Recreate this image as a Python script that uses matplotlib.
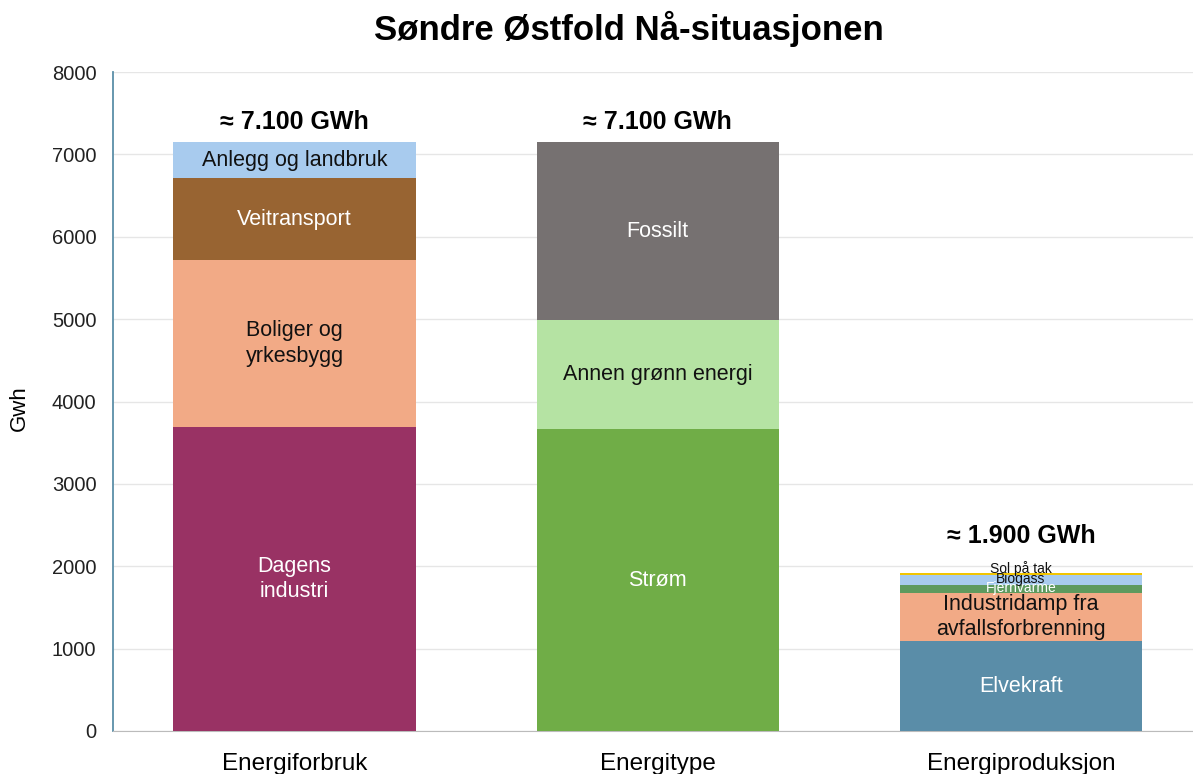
import matplotlib.pyplot as plt
import numpy as np

plt.rcParams['font.family'] = ['Liberation Sans', 'DejaVu Sans']

categories = ["Energiforbruk", "Energitype", "Energiproduksjon"]
totals = ["≈ 7.100 GWh", "≈ 7.100 GWh", "≈ 1.900 GWh"]

# segments per category (bottom to top)
seg_forbruk_labels = ["Dagens\nindustri", "Boliger og\nyrkesbygg", "Veitransport", "Anlegg og landbruk"]
seg_forbruk_values = [3690, 2026, 995, 437]
seg_type_labels = ["Strøm", "Annen grønn energi", "Fossilt"]
seg_type_values = [3665, 1323, 2160]
seg_prod_labels = ["Elvekraft", "Industridamp fra\navfallsforbrenning", "Fjernvarme", "Biogass", "Sol på tak"]
seg_prod_values = [1092, 583, 97, 121, 20]

colors_forbruk = ["#993264", "#F2AA86", "#986432", "#A8CBEE"]
colors_type = ["#70AD47", "#B5E3A3", "#767171"]
colors_prod = ["#5A8DA8", "#F2AA86", "#5E9A5E", "#A8CBEE", "#F2C500"]
txt_forbruk = ["white", "#111111", "white", "#111111"]
txt_type = ["white", "#111111", "white"]
txt_prod = ["white", "#111111", "white", "#111111", "#111111"]

fig = plt.figure(figsize=(11.93, 7.74), dpi=100)
ax = fig.add_axes([113/1193, 43/774, 1 - 113/1193, (731-72)/774])

width = 0.667
groups = [
    (seg_forbruk_labels, seg_forbruk_values, colors_forbruk, txt_forbruk),
    (seg_type_labels, seg_type_values, colors_type, txt_type),
    (seg_prod_labels, seg_prod_values, colors_prod, txt_prod),
]
small_y = {2: 1740, 3: 1845, 4: 1975}
total_off = [245, 245, 460]
for i, (labs, vals, cols, tcols) in enumerate(groups):
    bottom = 0
    for j, (lab, v, c, tc) in enumerate(zip(labs, vals, cols, tcols)):
        ax.bar(i, v, width, bottom=bottom, color=c, zorder=3)
        mid = bottom + v / 2
        fs = 15.5
        if i == 2 and j >= 2:
            fs = 10
            mid = small_y[j]
        ax.text(i, mid, lab, ha='center', va='center', color=tc, fontsize=fs,
                zorder=4, linespacing=1.3)
        bottom += v
    ax.text(i, bottom + total_off[i], totals[i], ha='center', va='center', fontsize=18,
            fontweight='bold', color='black', zorder=4)

ax.set_xlim(-0.5, 2.474)
ax.set_ylim(0, 8000)
ax.set_yticks(np.arange(0, 8001, 1000))
ax.set_xticks(range(len(categories)))
ax.set_xticklabels(categories, fontsize=17.5)
ax.tick_params(axis='y', labelsize=14.5, length=0, pad=12, colors='#222222')
ax.tick_params(axis='x', length=0, pad=16)
ax.grid(axis='y', color='#E6E6E6', linewidth=1, zorder=0)
for s in ['top', 'right']:
    ax.spines[s].set_visible(False)
ax.spines['left'].set_color('#5B8FA8')
ax.spines['left'].set_linewidth(1.3)
ax.spines['bottom'].set_color('#BBBBBB')
ax.set_ylabel("Gwh", fontsize=16)
ax.yaxis.set_label_coords(-0.077, 0.49)
fig.text(0.527, 0.963, "Søndre Østfold Nå-situasjonen", ha='center', va='center',
         fontsize=25, fontweight='bold')

fig.savefig("out.png", dpi=100)
